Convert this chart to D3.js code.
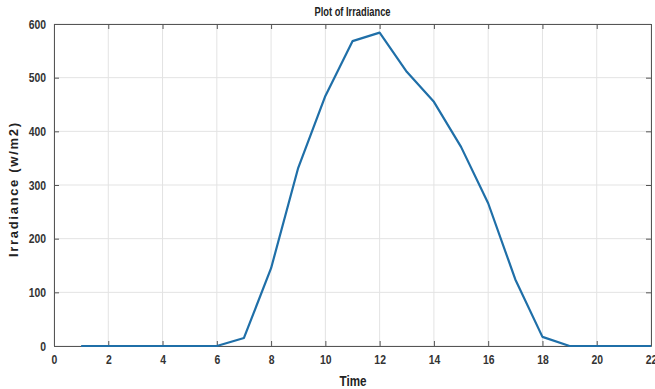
<!DOCTYPE html>
<html><head><meta charset="utf-8">
<script src="https://cdn.jsdelivr.net/npm/d3@7"></script>
<style>body{margin:0;background:#fff}svg{display:block}</style>
</head><body>
<svg id="c" width="655" height="389"></svg>
<script>
const hours = [1,2,3,4,5,6,7,8,9,10,11,12,13,14,15,16,17,18,19,20,21,22];
const irradiance = [0,0,0,0,0,0,15,145,332,466,568,584,511,455,371,266,124,17,0,0,0,0];
const xTicks = [0,2,4,6,8,10,12,14,16,18,20,22];
const yTicks = [0,100,200,300,400,500,600];
const title = "Plot of Irradiance";
const xLabel = "Time";
const yLabel = "Irradiance (w/m2)";

const W=655,H=389, m={l:54,r:4,t:24,b:43};
const svg=d3.select("#c");
const x=d3.scaleLinear().domain([0,22]).range([m.l,W-m.r]);
const y=d3.scaleLinear().domain([0,600]).range([H-m.b,m.t]);
const font="'Liberation Sans',Arial,sans-serif";

// grid
svg.append("g").selectAll("line").data(xTicks).join("line")
 .attr("x1",d=>x(d)).attr("x2",d=>x(d)).attr("y1",y(0)).attr("y2",y(600))
 .attr("stroke","#e3e3e3").attr("stroke-width",1);
svg.append("g").selectAll("line").data(yTicks).join("line")
 .attr("y1",d=>y(d)).attr("y2",d=>y(d)).attr("x1",x(0)).attr("x2",x(22))
 .attr("stroke","#e3e3e3").attr("stroke-width",1);

// axes
const styleAxis=g=>{g.select(".domain").attr("stroke","#555");g.selectAll(".tick line").attr("stroke","#555");
 g.selectAll("text").attr("font-family",font).attr("font-size",13).attr("font-weight","bold").attr("fill","#333")
  .attr("transform","scale(0.8,1)");};
svg.append("g").attr("transform",`translate(0,${y(0)})`)
 .call(d3.axisBottom(x).tickValues(xTicks).tickSize(-5).tickSizeOuter(0).tickPadding(9)).call(styleAxis);
svg.append("g").attr("transform",`translate(0,${y(600)})`)
 .call(d3.axisTop(x).tickValues(xTicks).tickSize(-5).tickSizeOuter(0).tickFormat("")).call(styleAxis);
svg.append("g").attr("transform",`translate(${x(0)},0)`)
 .call(d3.axisLeft(y).tickValues(yTicks).tickSize(-5).tickSizeOuter(0).tickPadding(10)).call(styleAxis);
svg.append("g").attr("transform",`translate(${x(22)},0)`)
 .call(d3.axisRight(y).tickValues(yTicks).tickSize(-5).tickSizeOuter(0).tickFormat("")).call(styleAxis);

// line
svg.append("path").datum(hours.map((h,i)=>[h,irradiance[i]]))
 .attr("fill","none").attr("stroke","#1f6fa8").attr("stroke-width",2.2).attr("stroke-linejoin","round")
 .attr("d",d3.line().x(d=>x(d[0])).y(d=>y(d[1])));

// labels
svg.append("text").attr("x",(x(0)+x(22))/2).attr("y",16).attr("text-anchor","middle")
 .attr("font-family",font).attr("font-size",12).attr("font-weight","bold").attr("fill","#222")
 .attr("textLength",76).attr("lengthAdjust","spacingAndGlyphs").text(title);
svg.append("text").attr("x",353).attr("y",386).attr("text-anchor","middle")
 .attr("font-family",font).attr("font-size",14).attr("font-weight","bold").attr("fill","#222")
 .attr("textLength",27).attr("lengthAdjust","spacingAndGlyphs").text(xLabel);
svg.append("text").attr("transform",`translate(18,190) rotate(-90)`).attr("text-anchor","middle")
 .attr("font-family",font).attr("font-size",13).attr("font-weight","bold").attr("fill","#222")
 .attr("textLength",134).attr("lengthAdjust","spacing").text(yLabel);
</script>
</body></html>
